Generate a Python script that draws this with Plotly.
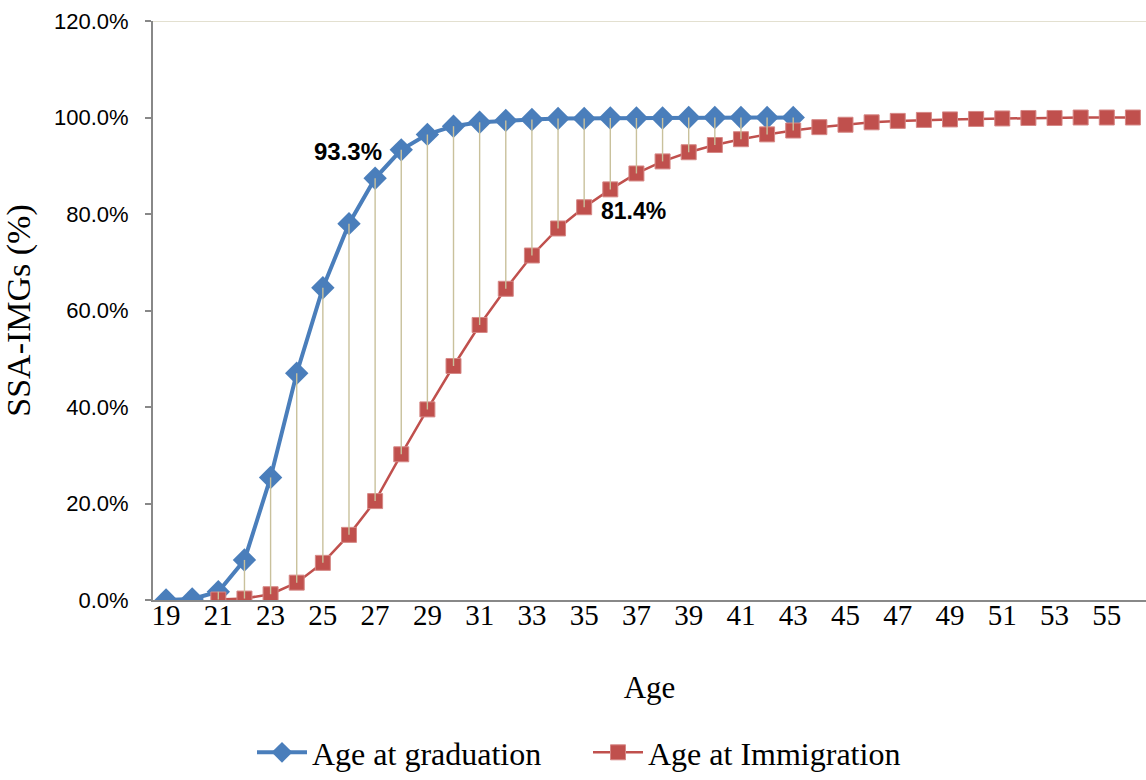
import plotly.graph_objects as go

grad_age = list(range(19, 44))
grad_pct = [0.0, 0.2, 1.7, 8.3, 25.4, 47.0, 64.7, 78.0, 87.4, 93.3, 96.5, 98.2, 99.0,
            99.4, 99.6, 99.8, 99.8, 99.9, 99.9, 99.9, 100.0, 100.0, 100.0, 100.0, 100.0]

imm_age = list(range(21, 57))
imm_pct = [0.1, 0.3, 1.2, 3.6, 7.7, 13.5, 20.5, 30.2, 39.5, 48.5, 57.0, 64.5, 71.4,
           77.0, 81.4, 85.1, 88.4, 90.9, 92.8, 94.3, 95.5, 96.5, 97.3, 98.0, 98.5,
           99.0, 99.3, 99.5, 99.6, 99.7, 99.8, 99.9, 99.9, 100.0, 100.0, 100.0]

x_ticks = list(range(19, 56, 2))
y_ticks = [0, 20, 40, 60, 80, 100, 120]

grad_y = [v / 100 for v in grad_pct]
imm_y = [v / 100 for v in imm_pct]

# high-low drop lines between the two series where both exist
gmap = dict(zip(grad_age, grad_y))
imap = dict(zip(imm_age, imm_y))
dx, dy = [], []
for a in grad_age:
    if a in imap:
        dx += [a, a, None]
        dy += [gmap[a], imap[a], None]

fig = go.Figure()
fig.add_trace(go.Scatter(x=grad_age, y=grad_y, mode="lines+markers", name="Age at graduation",
                         line=dict(color="#4A7EBB", width=4),
                         marker=dict(symbol="diamond", size=18, color="#4A7EBB",
                                     line=dict(color="#4A7EBB", width=0))))
fig.add_trace(go.Scatter(x=imm_age, y=imm_y, mode="lines+markers", name="Age at Immigration",
                         line=dict(color="#C0504D", width=2.5),
                         marker=dict(symbol="square", size=15, color="#C0504D",
                                     line=dict(color="#d68886", width=1))))
fig.add_trace(go.Scatter(x=dx, y=dy, mode="lines", line=dict(color="#c9c19c", width=1.4),
                         showlegend=False, hoverinfo="skip"))

fig.add_annotation(x=28, y=gmap[28], text="<b>93.3%</b>", showarrow=False,
                   xanchor="right", yanchor="middle", xshift=-17, yshift=-2,
                   font=dict(family="Liberation Sans", size=24, color="black"))
fig.add_annotation(x=35, y=imap[35], text="<b>81.4%</b>", showarrow=False,
                   xanchor="left", yanchor="middle", xshift=15, yshift=-4,
                   font=dict(family="Liberation Sans", size=23, color="black"))

fig.add_shape(type="line", xref="paper", x0=0, x1=1, yref="y", y0=1.2, y1=1.2,
              line=dict(color="#e3e0d0", width=2), layer="below")

fig.update_layout(
    width=1146, height=780,
    margin=dict(l=153, r=0, t=21, b=176),
    plot_bgcolor="white", paper_bgcolor="white",
    legend=dict(orientation="h", x=0.0997, xanchor="left", y=-0.264, yanchor="middle",
                font=dict(family="Liberation Serif", size=32, color="black"),
                traceorder="normal", itemwidth=50, entrywidth=271),
    xaxis=dict(range=[18.5, 56.5], tickvals=x_ticks, ticktext=[str(t) for t in x_ticks],
               showgrid=False, zeroline=False, showline=True, linecolor="#888888", linewidth=2,
               ticks="", ticklabelstandoff=-12, automargin=False,
               tickfont=dict(family="Liberation Serif", size=29, color="black"),
               title=dict(text="Age", font=dict(family="Liberation Serif", size=31, color="black"),
                          standoff=47)),
    yaxis=dict(range=[0, 1.2], tickvals=[v / 100 for v in y_ticks],
               ticktext=[f"{v:.1f}%" for v in y_ticks],
               showgrid=False, zeroline=False, showline=True, linecolor="#888888", linewidth=2,
               ticks="outside", ticklen=6, tickcolor="#888888", tickwidth=2,
               ticklabelstandoff=12, automargin=False,
               tickfont=dict(family="Liberation Sans", size=22, color="black"),
               title=dict(text="SSA-IMGs (%)", font=dict(family="Liberation Serif", size=34, color="black"),
                          standoff=16)),
)

fig.write_html("out.html", config={"displayModeBar": False},
               post_script="document.body.style.margin='0';document.body.style.overflow='hidden';")
